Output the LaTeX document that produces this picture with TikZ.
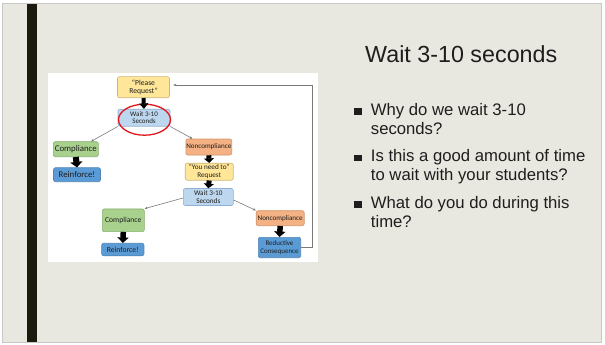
\documentclass[tikz,border=0pt]{standalone}
\usepackage{fontspec}
\setmainfont{Liberation Sans}
\newfontfamily\carl{Carlito}
\usetikzlibrary{arrows.meta,shapes.geometric,calc}
\definecolor{slidebg}{HTML}{E9E8E0}
\definecolor{slideborder}{HTML}{C8C8C8}
\definecolor{darkbar}{HTML}{1B1A0C}
\definecolor{txt}{HTML}{1E1E1E}
\definecolor{yfill}{HTML}{FFE699}
\definecolor{ydraw}{HTML}{CDB872}
\definecolor{lbfill}{HTML}{BDD7EE}
\definecolor{lbdraw}{HTML}{8EAFD6}
\definecolor{gfill}{HTML}{A9D18E}
\definecolor{gdraw}{HTML}{86AF6C}
\definecolor{ofill}{HTML}{F4B183}
\definecolor{odraw}{HTML}{D39468}
\definecolor{bfill}{HTML}{5B9BD5}
\definecolor{bdraw}{HTML}{4F84B6}
\definecolor{thin}{HTML}{7A7A7A}
\definecolor{ring}{HTML}{E3161C}
\tikzset{
  box/.style={rounded corners=2pt, line width=0.6pt, inner sep=0pt, align=center, text=txt},
  ybox/.style={box, fill=yfill, draw=ydraw},
  lbbox/.style={box, fill=lbfill, draw=lbdraw},
  gbox/.style={box, fill=gfill, draw=gdraw},
  obox/.style={box, fill=ofill, draw=odraw},
  bbox/.style={box, fill=bfill, draw=bdraw},
  blk/.style={draw=black, line width=#1, line cap=butt},
  thinarrow/.style={draw=thin, line width=0.6pt, -{Stealth[length=3pt,width=2.6pt]}},
  bul/.style={anchor=base west, inner sep=0pt, text=txt, font=\fontsize{16.7}{19}\selectfont},
  sq/.style={fill=txt, draw=none}
}
\newcommand{\fs}[1]{\carl\fontsize{#1}{#1}\selectfont}
\begin{document}
\begin{tikzpicture}[x=1pt,y=-1pt]
\useasboundingbox (0,0) rectangle (605,345);
\fill[white] (0,0) rectangle (605,345);
% slide
\filldraw[fill=slidebg, draw=slideborder, line width=0.8pt] (2.5,3.5) rectangle (601.8,342.3);
\fill[darkbar] (27,4) rectangle (37.2,342);
% picture panel
\fill[white] (48,73) rectangle (318,262);

% nodes
\node[ybox, minimum width=52pt, minimum height=21pt, font=\fs{7.6}] (pr) at (143.5,87.2) {“Please\\[1pt]Request”};
\node[lbbox, minimum width=52pt, minimum height=17pt, font=\fs{7}] (w1) at (144,117.7) {Wait 3-10\\[0.5pt]Seconds};
\node[draw=ring, line width=1.3pt, ellipse, minimum width=52pt, minimum height=31pt, inner sep=0pt] (ring1) at (144.5,119.7) {};
\node[gbox, minimum width=45pt, minimum height=15pt, font=\fs{8.8}] (c1) at (75.8,149.2) {Compliance};
\node[bbox, minimum width=47pt, minimum height=14pt, font=\fs{8.8}] (r1) at (77,174.7) {Reinforce!};
\node[obox, minimum width=46pt, minimum height=16pt, font=\fs{7.1}] (n1) at (208.8,147) {Noncompliance};
\node[ybox, minimum width=48pt, minimum height=17pt, font=\fs{7.2}] (yn) at (209.2,171.7) {“You need to”\\[0.5pt]Request};
\node[lbbox, minimum width=50pt, minimum height=17pt, font=\fs{7.2}] (w2) at (208.3,197) {Wait 3-10\\[0.5pt]Seconds};
\node[gbox, minimum width=42pt, minimum height=22.7pt, font=\fs{7.6}] (c2) at (123.3,220.3) {Compliance};
\node[bbox, minimum width=42.3pt, minimum height=12.5pt, font=\fs{7.7}] (r2) at (122.8,249.5) {Reinforce!};
\node[obox, minimum width=48pt, minimum height=15pt, font=\fs{7.1}] (n2) at (280.2,218.2) {Noncompliance};
\node[bbox, minimum width=42.4pt, minimum height=20.4pt, font=\fs{7}] (rc) at (279.5,247.5) {Reductive\\[0.5pt]Consequence};

% block arrows
\draw[blk=4pt, -{Triangle[width=9pt,length=5.5pt]}] (pr.south) -- (w1.north);
\draw[blk=6pt, -{Triangle[width=12pt,length=5.5pt]}] (c1.south) -- (r1.north);
\draw[blk=5pt, -{Triangle[width=10pt,length=4.5pt]}] (n1.south) -- (yn.north);
\draw[blk=5pt, -{Triangle[width=10pt,length=4.5pt]}] (yn.south) -- (w2.north);
\draw[blk=5.5pt, -{Triangle[width=11pt,length=5.5pt]}] (c2.south) -- (r2.north);
\draw[blk=5.5pt, -{Triangle[width=11pt,length=5.5pt]}] (n2.south) -- (rc.north);

% thin arrows
\draw[thinarrow] (w1.south west) -- ([xshift=-7.5pt]c1.north east);
\draw[thinarrow] (w1.south east) -- ([xshift=7pt]n1.north west);
\draw[thinarrow] ([yshift=-1pt]w2.west) -- (c2.north east);
\draw[thinarrow] ([yshift=-3pt]w2.east) -- (n2.north west);

% feedback
\coordinate (fb) at (312.6,85);
\draw[thinarrow] (rc.east) -| (fb) -- ([xshift=3.5pt]pr.east |- fb);

% right text
\node[anchor=base west, inner sep=0pt, text=txt, font=\fontsize{23.3}{26}\selectfont] (title) at (365,63) {Wait 3-10 seconds};
\node[bul] (b1a) at (370.7,115) {Why do we wait 3-10};
\node[bul] (b1b) at (370.7,134) {seconds?};
\node[bul] (b2a) at (370.7,161.7) {Is this a good amount of time};
\node[bul] (b2b) at (370.7,180.7) {to wait with your students?};
\node[bul] (b3a) at (370.7,208) {What do you do during this};
\node[bul] (b3b) at (370.7,227) {time?};
\fill[sq] (353.5,107.8) rectangle (361.5,114.5);
\fill[sq] (353.5,154.5) rectangle (361.5,161.2);
\fill[sq] (353.5,200.8) rectangle (361.5,207.5);
\end{tikzpicture}
\end{document}
